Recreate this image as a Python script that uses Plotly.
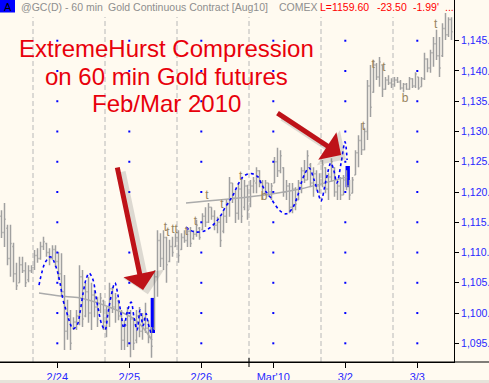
import plotly.graph_objects as go

# ---------------- data (60-min bars, index 0..150) ----------------
high = [1117.0, 1118.2, 1114.6, 1114.6, 1111.6, 1108.3, 1109.3, 1109.3, 1108.4, 1107.9,
        1107.9, 1110.4, 1110.7, 1111.8, 1112.6, 1111.6, 1110.7, 1111.2, 1111.2, 1110.1,
        1109.9, 1106.3, 1102.2, 1100.5, 1099.3, 1100.5, 1107.9, 1107.1, 1105.0, 1106.0,
        1105.0, 1103.8, 1102.7, 1103.3, 1102.2, 1101.0, 1105.0, 1104.3, 1103.3, 1102.2,
        1100.5, 1098.8, 1101.0, 1100.5, 1099.3, 1100.5, 1101.0, 1100.0, 1101.7, 1098.8,
        1097.7, 1107.1, 1113.7, 1113.2, 1113.7, 1112.6, 1112.1, 1112.6, 1113.2, 1113.7,
        1113.2, 1113.7, 1114.2, 1114.2, 1113.7, 1115.4, 1114.2, 1116.5, 1117.5, 1118.2,
        1117.5, 1117.0, 1115.9, 1116.2, 1117.0, 1118.7, 1122.5, 1121.5, 1120.3, 1121.5,
        1122.5, 1122.0, 1121.2, 1122.0, 1122.5, 1124.1, 1123.6, 1122.0, 1122.0, 1121.5,
        1121.5, 1125.8, 1127.3, 1126.9, 1124.1, 1122.0, 1121.5, 1121.5, 1120.8, 1122.0,
        1124.1, 1125.3, 1126.9, 1124.8, 1124.1, 1123.6, 1123.1, 1125.3, 1124.1, 1123.1,
        1125.6, 1124.1, 1122.0, 1122.5, 1122.8, 1123.6, 1122.0, 1122.5, 1126.9, 1129.4,
        1131.4, 1130.6, 1138.5, 1141.0, 1141.8, 1141.3, 1142.3, 1141.0, 1139.0, 1139.3,
        1138.8, 1139.0, 1139.0, 1138.5, 1138.0, 1138.0, 1139.0, 1138.8, 1139.8, 1139.0,
        1139.0, 1143.0, 1142.1, 1143.5, 1145.6, 1146.8, 1145.6, 1147.9, 1149.6, 1148.9,
        1148.9]
low = [1112.4, 1110.9, 1107.9, 1106.0, 1105.1, 1103.8, 1105.0, 1106.6, 1104.3, 1105.1,
       1106.6, 1107.1, 1108.3, 1108.8, 1110.4, 1109.3, 1107.9, 1108.8, 1107.6, 1105.5,
       1102.7, 1093.9, 1095.6, 1093.9, 1097.2, 1097.2, 1098.0, 1097.7, 1099.3, 1098.4,
       1097.2, 1099.3, 1097.7, 1100.0, 1097.2, 1096.0, 1097.7, 1100.0, 1098.4, 1098.8,
       1093.9, 1093.9, 1094.4, 1092.7, 1093.9, 1095.0, 1096.0, 1095.6, 1096.7, 1095.0,
       1092.6, 1097.2, 1102.7, 1107.6, 1107.1, 1105.0, 1108.4, 1109.3, 1110.9, 1108.3,
       1110.4, 1111.6, 1110.9, 1110.9, 1112.1, 1112.6, 1112.1, 1113.7, 1114.2, 1114.9,
       1115.4, 1113.7, 1113.2, 1110.9, 1113.2, 1114.9, 1115.9, 1118.2, 1114.9, 1115.4,
       1114.9, 1117.0, 1115.4, 1117.5, 1119.8, 1119.8, 1120.8, 1118.7, 1119.8, 1119.2,
       1118.7, 1121.5, 1122.5, 1123.1, 1119.2, 1118.7, 1116.5, 1116.5, 1117.0, 1118.7,
       1119.8, 1121.5, 1122.0, 1120.8, 1119.2, 1120.3, 1119.8, 1120.8, 1119.8, 1118.7,
       1121.7, 1119.2, 1118.7, 1118.7, 1119.5, 1120.3, 1118.7, 1119.8, 1122.8, 1124.1,
       1126.1, 1126.9, 1128.6, 1132.4, 1136.4, 1138.5, 1137.4, 1135.7, 1136.9, 1137.7,
       1137.2, 1137.4, 1138.0, 1136.9, 1136.5, 1136.9, 1136.9, 1137.2, 1137.2, 1136.9,
       1137.4, 1138.5, 1139.8, 1139.7, 1140.7, 1141.8, 1139.0, 1142.3, 1145.1, 1145.6,
       1145.1]
open_ = [1116.0, 1113.3, 1114.0, 1109.0, 1111.0, 1106.5, 1105.0, 1108.0, 1107.0, 1105.5,
         1107.0, 1107.5, 1109.5, 1109.0, 1111.0, 1111.5, 1110.0, 1109.0, 1110.5, 1108.5,
         1106.5, 1103.5, 1097.0, 1099.5, 1097.5, 1098.5, 1099.5, 1106.0, 1099.5, 1103.5,
         1100.0, 1103.0, 1101.0, 1100.5, 1102.0, 1098.5, 1100.0, 1104.0, 1101.0, 1102.0,
         1099.5, 1095.5, 1098.0, 1095.0, 1099.0, 1095.5, 1099.5, 1097.0, 1099.0, 1097.5,
         1096.0, 1097.5, 1106.0, 1112.0, 1109.0, 1112.5, 1108.5, 1111.0, 1111.0, 1112.5,
         1110.5, 1112.5, 1112.0, 1113.5, 1112.3, 1113.0, 1114.0, 1113.8, 1116.0, 1115.0,
         1117.5, 1116.0, 1114.5, 1115.0, 1113.5, 1116.0, 1118.0, 1121.5, 1119.0, 1116.5,
         1120.5, 1117.5, 1121.0, 1118.0, 1121.0, 1121.5, 1123.5, 1121.5, 1119.8, 1121.5,
         1120.0, 1121.5, 1125.0, 1123.5, 1124.0, 1120.0, 1121.0, 1117.5, 1120.5, 1118.7,
         1121.5, 1123.5, 1122.0, 1124.5, 1121.5, 1123.0, 1121.0, 1122.0, 1124.0, 1120.5,
         1122.5, 1124.0, 1120.0, 1121.0, 1119.5, 1122.0, 1121.0, 1119.8, 1122.8, 1126.5,
         1128.5, 1127.0, 1130.0, 1137.5, 1136.5, 1141.0, 1139.0, 1141.0, 1137.0, 1138.5,
         1138.0, 1137.8, 1138.5, 1138.2, 1137.2, 1137.8, 1137.0, 1138.7, 1137.5, 1139.0,
         1137.4, 1138.7, 1142.0, 1140.5, 1143.0, 1144.5, 1142.5, 1142.5, 1147.0, 1146.0,
         1148.5]
close = [1113.3, 1115.5, 1109.0, 1111.5, 1106.5, 1104.5, 1108.0, 1107.0, 1105.0, 1107.0,
         1107.5, 1109.5, 1109.0, 1111.0, 1111.8, 1110.0, 1109.0, 1110.5, 1108.5, 1106.5,
         1103.5, 1097.0, 1099.5, 1095.0, 1098.5, 1099.5, 1106.0, 1099.0, 1103.5, 1100.0,
         1103.0, 1101.0, 1099.0, 1102.5, 1098.5, 1100.0, 1104.0, 1101.0, 1102.5, 1099.5,
         1095.5, 1098.0, 1095.0, 1099.0, 1095.0, 1099.5, 1097.0, 1099.0, 1097.5, 1096.0,
         1094.5, 1106.0, 1112.0, 1109.0, 1112.5, 1108.0, 1111.0, 1110.0, 1112.5, 1109.5,
         1112.5, 1112.0, 1113.5, 1111.5, 1113.0, 1114.5, 1112.5, 1116.0, 1115.0, 1117.5,
         1116.0, 1114.5, 1115.0, 1112.0, 1116.0, 1118.0, 1121.5, 1119.0, 1116.5, 1120.5,
         1116.0, 1121.0, 1117.0, 1121.0, 1121.8, 1123.5, 1121.5, 1119.5, 1121.5, 1120.0,
         1121.0, 1125.0, 1123.5, 1126.0, 1120.0, 1121.0, 1117.5, 1120.5, 1118.0, 1121.5,
         1123.5, 1122.0, 1126.0, 1121.5, 1123.0, 1121.0, 1122.0, 1124.5, 1120.5, 1122.5,
         1125.0, 1120.0, 1121.0, 1119.5, 1122.0, 1121.0, 1119.5, 1122.0, 1126.5, 1128.5,
         1127.0, 1130.0, 1137.5, 1134.0, 1141.0, 1139.0, 1141.5, 1137.0, 1138.5, 1138.0,
         1137.8, 1138.5, 1138.2, 1137.2, 1137.8, 1137.0, 1138.7, 1137.5, 1139.5, 1137.2,
         1138.7, 1142.0, 1140.5, 1143.0, 1144.5, 1142.5, 1140.5, 1147.0, 1146.0, 1148.5,
         1146.5]
bar_index = list(range(len(high)))

# session boundaries and date labels (in bar-index units)
session_breaks = [10.5, 34.5, 58.5, 82.5, 106.5, 130.5]
date_ticks = [18.6, 42.6, 66.6, 90.6, 114.6, 138.6]
date_labels = ["2/24", "2/25", "2/26", "Mar'10", "3/2", "3/3"]
month_break = 82.5

price_ticks = [1095, 1100, 1105, 1110, 1115, 1120, 1125, 1130, 1135, 1140, 1145]
price_labels = ["1,095.", "1,100.", "1,105.", "1,110.", "1,115.", "1,120.", "1,125.",
                "1,130.", "1,135.", "1,140.", "1,145."]

# ExtremeHurst cycle curves (index, price)
hurst1_x = [12.5, 13.5, 14.5, 16.2, 17.2, 18.5, 19.5, 20.5, 21.8, 22.8, 23.8, 25.2, 26.2,
            27.2, 28.2, 29.2, 30.5, 31.5, 32.5, 33.5, 34.5, 35.5, 36.5, 37.8, 38.8, 39.8,
            40.8, 41.8, 43.2, 44.2, 45.2, 46.2, 47.2, 48.2, 48.8, 49.8]
hurst1_y = [1104.6, 1106.8, 1108.3, 1109.3, 1108.8, 1107.1, 1105.0, 1102.2, 1100.0, 1098.4,
            1097.4, 1098.0, 1100.2, 1103.3, 1105.6, 1106.6, 1105.5, 1102.7, 1100.0, 1098.0,
            1097.2, 1100.0, 1102.7, 1105.0, 1103.0, 1100.0, 1097.5, 1100.0, 1101.8, 1099.2,
            1097.2, 1100.5, 1097.9, 1099.9, 1098.5, 1096.7]
hurst2_x = [61.5, 62.8, 64.5, 66.2, 67.8, 69.5, 71.2, 72.8, 74.5, 76.2, 77.2, 78.8, 80.5,
            82.2, 83.8, 85.5, 86.5, 87.8, 89.5, 91.2, 92.8, 94.5, 95.5, 97.2, 98.8, 99.8,
            101.2, 102.5, 104.2, 105.8, 106.5, 108.2, 109.8, 110.8, 111.8, 113.2, 114.5,
            115.2]
hurst2_y = [1114.2, 1113.7, 1113.4, 1113.4, 1113.6, 1114.1, 1114.9, 1115.9, 1117.4, 1118.7,
            1119.5, 1121.2, 1122.5, 1123.0, 1123.0, 1122.5, 1121.5, 1120.3, 1119.2, 1117.9,
            1116.9, 1116.4, 1116.5, 1117.5, 1119.5, 1121.3, 1123.1, 1124.0, 1122.0, 1119.4,
            1118.5, 1122.0, 1124.8, 1123.5, 1121.5, 1124.8, 1128.3, 1125.3]
trend1_x = [12.5, 19.5, 26.2, 35.8, 44.8, 50.2]
trend1_y = [1103.3, 1102.8, 1102.5, 1101.0, 1098.8, 1095.5]
trend2_x = [61.5, 82.8, 99.5, 115.2]
trend2_y = [1118.2, 1119.2, 1120.5, 1122.5]

# compression-end markers
box_x = [50.45, 115.4]
box_low = [1096.7, 1120.8]
box_high = [1102.5, 1124.3]

# top / bottom marks
mark_x = [54.6, 55.5, 57.7, 61.6, 64.6, 68.5, 73.5, 79.7, 87.5, 120.6, 123.9, 127.5, 134.5, 144.7]
mark_y = [1114.0, 1113.2, 1113.7, 1113.4, 1115.0, 1119.3, 1117.9, 1122.5, 1119.2, 1130.7,
          1141.0, 1140.5, 1135.4, 1147.6]
mark_t = ["t", "t", "tt", "t", "t", "t", "t", "t", "b", "t", "t", "t", "b", "t"]

# arrows: (tail_x, tail_y, head_x, head_y)
arrows = [(38.5, 1124.3, 47.2, 1103.8), (91.5, 1133.2, 113.2, 1126.1)]

# ---------------- figure ----------------
W, H = 489, 383
PW, PH = 454, 362
YR = [1091.91, 1151.73]
XR = [-0.5, 150.833]
BG = "#FFFAF0"
FONT = "Liberation Sans, Arial, sans-serif"


def px(v):
    return v / PW


def py(v):
    return 1 - v / PH


fig = go.Figure()

# grid dots
gx, gy = [], []
for t in date_ticks:
    for p in price_ticks:
        gx.append(t)
        gy.append(p)
fig.add_trace(go.Scatter(x=gx, y=gy, mode="markers",
                         marker=dict(size=2, color="#0000FF", symbol="square", line=dict(width=0)),
                         hoverinfo="skip", showlegend=False))

fig.add_trace(go.Ohlc(x=bar_index, open=open_, high=high, low=low, close=close,
                      increasing=dict(line=dict(color="#A0A0A0", width=1.5)),
                      decreasing=dict(line=dict(color="#A0A0A0", width=1.5)),
                      tickwidth=0.4, showlegend=False, hoverinfo="skip"))

for tx, ty in [(trend1_x, trend1_y), (trend2_x, trend2_y)]:
    fig.add_trace(go.Scatter(x=tx, y=ty, mode="lines",
                             line=dict(color="#ABABAB", width=1.5, shape="spline"),
                             hoverinfo="skip", showlegend=False))

for hx, hy in [(hurst1_x, hurst1_y), (hurst2_x, hurst2_y)]:
    fig.add_trace(go.Scatter(x=hx, y=hy, mode="lines",
                             line=dict(color="#0000FF", width=1.6, dash="dot", shape="spline", smoothing=1.0),
                             hoverinfo="skip", showlegend=False))

fig.add_trace(go.Bar(x=box_x, y=[h - l for h, l in zip(box_high, box_low)], base=box_low,
                     width=1.45, marker=dict(color="#0000FF", line=dict(width=0)),
                     hoverinfo="skip", showlegend=False))

fig.add_trace(go.Scatter(x=mark_x, y=mark_y, mode="text", text=mark_t,
                         textfont=dict(family=FONT, size=12, color="#978460"),
                         hoverinfo="skip", showlegend=False))

shapes = []
for b in session_breaks:
    shapes.append(dict(type="line", xref="x", yref="paper", x0=b, x1=b, y0=0, y1=py(17),
                       line=dict(color="#B8B8B8", width=1, dash="5px,3px"), layer="below"))
# month tick crossing the axis
shapes.append(dict(type="line", xref="x", yref="paper", x0=month_break, x1=month_break,
                   y0=py(358), y1=py(367), line=dict(color="black", width=1)))
# axis line extending under the price scale
shapes.append(dict(type="line", xref="paper", yref="paper", x0=0, x1=W / PW, y0=0, y1=0,
                   line=dict(color="black", width=1)))
# bottom scroll strip
shapes.append(dict(type="rect", xref="paper", yref="paper", x0=0, x1=W / PW, y0=py(383), y1=py(380),
                   fillcolor="#E6E3DA", line=dict(width=0)))
# header symbol box
shapes.append(dict(type="rect", xref="paper", yref="paper", x0=0, x1=px(15), y0=py(12.5), y1=1,
                   fillcolor="#0000FF", line=dict(width=0)))

ann = []
# arrow shadows and arrows
for (tx, ty, hx, hy) in arrows:
    ann.append(dict(x=hx + 1.6, y=hy - 0.7, ax=tx + 1.6, ay=ty - 0.7, xref="x", yref="y",
                    axref="x", ayref="y", text="", showarrow=True, arrowhead=1,
                    arrowsize=1.0, arrowwidth=7, arrowcolor="rgba(90,90,90,0.20)"))
for (tx, ty, hx, hy) in arrows:
    ann.append(dict(x=hx, y=hy, ax=tx, ay=ty, xref="x", yref="y", axref="x", ayref="y",
                    text="", showarrow=True, arrowhead=1, arrowsize=1.1, arrowwidth=5,
                    arrowcolor="#BE1218"))

for txt, yy in [("ExtremeHurst Compression", 48), ("on 60 min Gold futures", 76),
                ("Feb/Mar 2010", 103)]:
    ann.append(dict(x=px(166), y=py(yy), xref="paper", yref="paper", text=txt, showarrow=False,
                    xanchor="center", yanchor="middle",
                    font=dict(family=FONT, size=24, color="#E8000B")))

# header text
ann.append(dict(x=px(7.5), y=py(6.5), xref="paper", yref="paper", text="A", showarrow=False,
                xanchor="center", yanchor="middle", font=dict(family=FONT, size=11, color="black")))
for txt, xx, col in [("@GC(D) - 60 min", 21, "#8E8E8E"),
                     ("Gold Continuous Contract [Aug10]", 108, "#8E8E8E"),
                     ("COMEX", 279, "#8E8E8E"),
                     ("L=1159.60", 320, "#FF0000"),
                     ("-23.50", 377, "#FF0000"),
                     ("-1.99'", 413, "#FF0000"),
                     ("...", 445, "#FF0000")]:
    ann.append(dict(x=px(xx), y=py(6.5), xref="paper", yref="paper", text=txt, showarrow=False,
                    xanchor="left", yanchor="middle", borderpad=0, xshift=-1,
                    font=dict(family=FONT, size=10.5, color=col)))

fig.update_layout(
    width=W, height=H, template="none",
    margin=dict(l=0, r=W - PW, t=0, b=H - PH, pad=0),
    paper_bgcolor=BG, plot_bgcolor=BG,
    showlegend=False, barmode="overlay",
    shapes=shapes, annotations=ann,
    xaxis=dict(range=XR, showgrid=False, zeroline=False, showline=True, linecolor="black",
               linewidth=1, ticks="outside", ticklen=5, tickcolor="black", tickwidth=1,
               tickvals=date_ticks, ticktext=date_labels, automargin=False,
               tickfont=dict(family=FONT, size=11, color="#2828FF"),
               rangeslider=dict(visible=False), fixedrange=True),
    yaxis=dict(range=YR, side="right", showgrid=False, zeroline=False, showline=True,
               linecolor="black", linewidth=1, ticks="outside", ticklen=4, tickcolor="black",
               tickvals=price_ticks, ticktext=price_labels, automargin=False,
               tickfont=dict(family=FONT, size=10.5, color="#2828FF"), fixedrange=True),
)

fig.write_html("out.html")
